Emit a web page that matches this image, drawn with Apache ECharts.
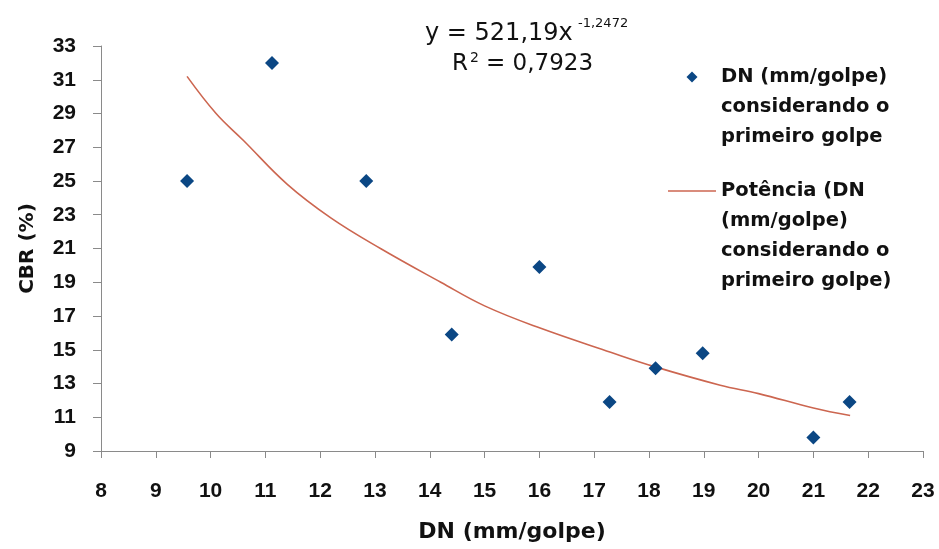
<!DOCTYPE html>
<html>
<head>
<meta charset="utf-8">
<script src="https://cdn.jsdelivr.net/npm/echarts@6/dist/echarts.min.js"></script>
<style>
html,body{margin:0;padding:0;background:#fff;}
#c{width:939px;height:549px;}
</style>
</head>
<body>
<div id="c"></div>
<script>
// Data
var dnValues  = [9.57, 11.12, 12.84, 14.4, 16.0, 17.28, 18.12, 18.98, 21.0, 21.66];
var cbrValues = [25, 32, 25, 15.9, 19.9, 11.9, 13.9, 14.8, 9.8, 11.9];

// Power trend line
var trendX = [9.57, 10.1, 10.6, 11.4, 12.2, 13.1, 14.2, 15.0, 16.0, 17.3, 18.1, 19.3, 20.0, 21.0, 21.67];
var trendY = [31.2, 29.0, 27.4, 24.8, 22.8, 21.0, 19.0, 17.6, 16.3, 14.85, 14.0, 12.9, 12.4, 11.55, 11.1];

var seriesNames = ['DN (mm/golpe)\nconsiderando o\nprimeiro golpe',
                   'Potência (DN\n(mm/golpe)\nconsiderando o\nprimeiro golpe)'];
var xAxisTitle = 'DN (mm/golpe)';
var yAxisTitle = 'CBR (%)';
var eqLine1 = 'y = 521,19x';
var eqExp = '-1,2472';
var eqR = 'R';
var eqR2 = '2';
var eqRval = '= 0,7923';

var scatterData = dnValues.map(function (x, i) { return [x, cbrValues[i]]; });
var trendData = trendX.map(function (x, i) { return [x, trendY[i]]; });

var chart = echarts.init(document.getElementById('c'));
var axisCol = '#8a8a8a';
var tickFont = '"Liberation Sans", Arial, sans-serif';
var legendText = {
  fontFamily: 'DejaVu Sans', fontWeight: 'bold', fontSize: 19.5,
  lineHeight: 30, color: '#111'
};
chart.setOption({
  backgroundColor: '#ffffff',
  animation: false,
  grid: { left: 101, right: 16, top: 46, bottom: 98 },
  xAxis: {
    type: 'value', min: 8, max: 23, interval: 1,
    name: xAxisTitle, nameLocation: 'middle', nameGap: 70,
    nameTextStyle: { fontFamily: 'DejaVu Sans', fontWeight: 'bold', fontSize: 22, color: '#111' },
    axisLine: { show: true, lineStyle: { color: axisCol, width: 1 } },
    axisTick: { show: true, length: 7, lineStyle: { color: axisCol } },
    axisLabel: { margin: 30, fontFamily: tickFont, fontWeight: 'bold', fontSize: 21, color: '#111' },
    splitLine: { show: false }
  },
  yAxis: {
    type: 'value', min: 9, max: 33, interval: 2,
    name: yAxisTitle, nameLocation: 'middle', nameGap: 63,
    nameTextStyle: { fontFamily: 'DejaVu Sans', fontWeight: 'bold', fontSize: 20, color: '#111' },
    axisLine: { show: true, lineStyle: { color: axisCol, width: 1 } },
    axisTick: { show: true, length: 8, lineStyle: { color: axisCol } },
    axisLabel: { margin: 25, fontFamily: tickFont, fontWeight: 'bold', fontSize: 21, color: '#111' },
    splitLine: { show: false }
  },
  legend: [
    {
      data: [{ name: seriesNames[0], icon: 'path://M1,0L2,1L1,2L0,1Z' }],
      formatter: function (n) { return '\n\n' + n; },
      orient: 'vertical', left: 686.5, top: 2, padding: 0,
      itemWidth: 48, itemHeight: 11,
      textStyle: legendText
    },
    {
      data: [{ name: seriesNames[1], icon: 'path://M0,0L48,0L48,1.6L0,1.6Z' }],
      formatter: function (n) { return '\n\n\n' + n; },
      orient: 'vertical', left: 668, top: 86, padding: 0,
      itemWidth: 48, itemHeight: 11,
      textStyle: legendText
    }
  ],
  series: [
    {
      name: seriesNames[0], type: 'scatter', symbol: 'diamond', symbolSize: 14,
      itemStyle: { color: '#0b4784', opacity: 1 },
      data: scatterData, z: 3
    },
    {
      name: seriesNames[1], type: 'line', smooth: 0.4, showSymbol: false, symbol: 'none',
      lineStyle: { color: '#cc6650', width: 1.6 },
      itemStyle: { color: '#cc6650' },
      data: trendData, z: 2
    }
  ],
  graphic: [
    { type: 'text', x: 425, y: 34, style: { text: eqLine1, fontFamily: 'DejaVu Sans', fontSize: 24, fill: '#111', verticalAlign: 'middle' } },
    { type: 'text', x: 578, y: 24, style: { text: eqExp, fontFamily: 'DejaVu Sans', fontSize: 13, fill: '#111', verticalAlign: 'middle' } },
    { type: 'text', x: 452, y: 64.5, style: { text: eqR, fontFamily: 'DejaVu Sans', fontSize: 23, fill: '#111', verticalAlign: 'middle' } },
    { type: 'text', x: 470, y: 58, style: { text: eqR2, fontFamily: 'DejaVu Sans', fontSize: 14, fill: '#111', verticalAlign: 'middle' } },
    { type: 'text', x: 486, y: 64.5, style: { text: eqRval, fontFamily: 'DejaVu Sans', fontSize: 23, fill: '#111', verticalAlign: 'middle' } }
  ]
});
</script>
</body>
</html>
